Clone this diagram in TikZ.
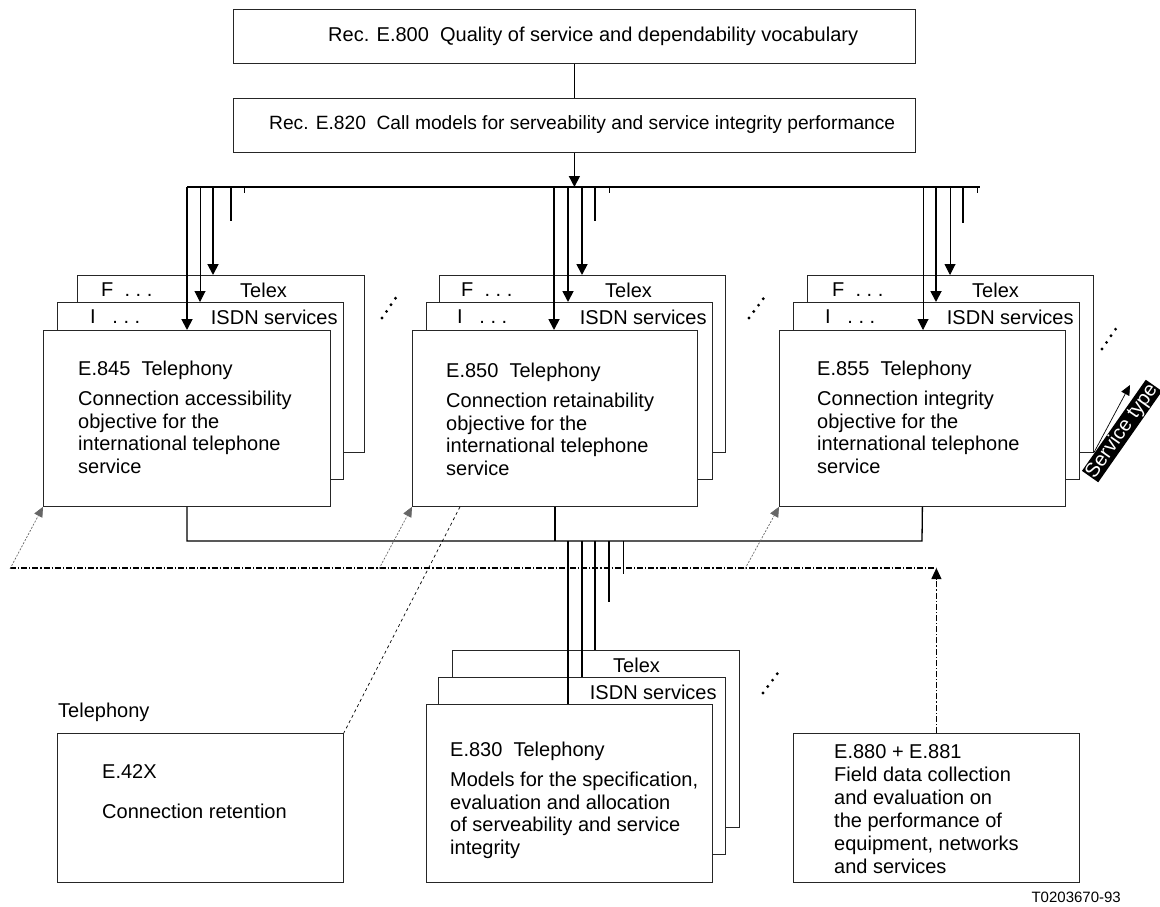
\documentclass[tikz,border=0pt]{standalone}
\usepackage{fontspec}
\setmainfont{Liberation Sans}
\usetikzlibrary{arrows.meta,calc}

\tikzset{
  box/.style={draw=black!85, line width=0.8pt, fill=white, anchor=north west, inner sep=0pt},
  txt/.style={inner sep=0pt, font=\fontsize{20}{22.5}\selectfont, align=left},
  busline/.style={line width=2pt},
  feed/.style={line width=1.8pt},
  thinfeed/.style={line width=1pt},
  headarrow/.style={-{Triangle[length=11pt,width=11pt]}},
  dashdot/.style={line width=1.1pt, dash pattern=on 6pt off 2pt on 1.2pt off 2pt},
  ptr/.style={draw=black!60, line width=0.7pt, dash pattern=on 2pt off 1.5pt, -{Triangle[length=10pt,width=9pt]}},
  etcdots/.style={line width=3.2pt, line cap=round, dash pattern=on 0pt off 8pt}
}

\begin{document}
\begin{tikzpicture}[x=1pt, y=-1pt]
  \useasboundingbox (0,0) rectangle (1160,906);

  % top of the tree
  \node[box, minimum width=682, minimum height=54] (e800) at (233,9) {};
  \node[txt, anchor=west] (t800) at (328,36) {Rec. E.800\ \ Quality of service and dependability vocabulary};
  \node[box, minimum width=682, minimum height=54] (e820) at (233,98) {};
  \node[txt, anchor=west, font=\fontsize{19.2}{22}\selectfont] (t820) at (269,125) {Rec. E.820\ \ Call models for serveability and service integrity performance};
  \draw[line width=1.5pt] (e800.south) -- (e820.north);

  \coordinate (busL) at (187,187);
  \coordinate (busR) at (980,187);
  \draw[busline] (busL) -- (busR);
  \draw[line width=1.5pt, headarrow] (e820.south) -- (e820.south |- busL);

  % E.845 stack
  \node[box, minimum width=287, minimum height=177] (f845) at (77,275) {};
  \node[box, minimum width=286, minimum height=177] (i845) at (57,302) {};
  \node[box, minimum width=287, minimum height=176] (b845) at (43,330) {};
  \node[txt, anchor=west] (lf845) at ($(f845.north west)+(24,15)$) {F\ \ .\ .\ .};
  \node[txt, anchor=west] (lt845) at ($(f845.north west)+(163,15)$) {Telex};
  \node[txt, anchor=west] (li845) at ($(i845.north west)+(33,15)$) {I\ \ \ .\ .\ .};
  \node[txt, anchor=east] (ls845) at ($(i845.north east)+(-6,15)$) {ISDN services};
  \node[txt, anchor=west] (h845) at ($(b845.north west)+(35,40)$) {E.845\ \ Telephony};
  \node[txt, anchor=north west] (d845) at ($(b845.north west)+(35,61)$) {Connection accessibility\\objective for the\\international telephone\\service};

  % E.850 stack
  \node[box, minimum width=286, minimum height=177] (f850) at (439,275) {};
  \node[box, minimum width=286, minimum height=177] (i850) at (426,302) {};
  \node[box, minimum width=285, minimum height=176] (b850) at (412,330) {};
  \node[txt, anchor=west] (lf850) at ($(f850.north west)+(22,15)$) {F\ \ .\ .\ .};
  \node[txt, anchor=west] (lt850) at ($(f850.north west)+(166,15)$) {Telex};
  \node[txt, anchor=west] (li850) at ($(i850.north west)+(31,15)$) {I\ \ \ .\ .\ .};
  \node[txt, anchor=east] (ls850) at ($(i850.north east)+(-6,15)$) {ISDN services};
  \node[txt, anchor=west] (h850) at ($(b850.north west)+(34,42)$) {E.850\ \ Telephony};
  \node[txt, anchor=north west] (d850) at ($(b850.north west)+(34,63)$) {Connection retainability\\objective for the\\international telephone\\service};

  % E.855 stack
  \node[box, minimum width=286, minimum height=177] (f855) at (807,275) {};
  \node[box, minimum width=286, minimum height=177] (i855) at (793,302) {};
  \node[box, minimum width=286, minimum height=176] (b855) at (779,330) {};
  \node[txt, anchor=west] (lf855) at ($(f855.north west)+(25,15)$) {F\ \ .\ .\ .};
  \node[txt, anchor=west] (lt855) at ($(f855.north west)+(165,15)$) {Telex};
  \node[txt, anchor=west] (li855) at ($(i855.north west)+(32,15)$) {I\ \ \ .\ .\ .};
  \node[txt, anchor=east] (ls855) at ($(i855.north east)+(-6,15)$) {ISDN services};
  \node[txt, anchor=west] (h855) at ($(b855.north west)+(38,40)$) {E.855\ \ Telephony};
  \node[txt, anchor=north west] (d855) at ($(b855.north west)+(38,61)$) {Connection integrity\\objective for the\\international telephone\\service};

  % taps on the bus
  \coordinate (a1) at (187,187); \coordinate (a2) at (200,187); \coordinate (a3) at (213,187);
  \coordinate (a4) at (231,187); \coordinate (a5) at (244,187);
  \coordinate (m1) at (554,187); \coordinate (m2) at (568,187); \coordinate (m3) at (582,187);
  \coordinate (m4) at (595,187); \coordinate (m5) at (609,187);
  \coordinate (r1) at (923,187); \coordinate (r2) at (936,187); \coordinate (r3) at (950,187);
  \coordinate (r4) at (963,187); \coordinate (r5) at (977,187);

  \draw[feed, headarrow] (a1) -- (a1 |- b845.north);
  \draw[thinfeed, headarrow] (a2) -- (a2 |- i845.north);
  \draw[feed, headarrow] (a3) -- (a3 |- f845.north);
  \draw[feed] (a4) -- ++(0,34);
  \draw[thinfeed] (a5) -- ++(0,6);

  \draw[feed, headarrow] (m1) -- (m1 |- b850.north);
  \draw[feed, headarrow] (m2) -- (m2 |- i850.north);
  \draw[feed, headarrow] (m3) -- (m3 |- f850.north);
  \draw[feed] (m4) -- ++(0,34);
  \draw[thinfeed] (m5) -- ++(0,6);

  \draw[thinfeed, headarrow] (r1) -- (r1 |- b855.north);
  \draw[feed, headarrow] (r2) -- (r2 |- i855.north);
  \draw[thinfeed, headarrow] (r3) -- (r3 |- f855.north);
  \draw[feed] (r4) -- ++(0,36);
  \draw[thinfeed] (r5) -- ++(0,6);

  % more services
  \coordinate (g1a) at (382,318); \coordinate (g1b) at (397,296);
  \coordinate (g2a) at (749,318); \coordinate (g2b) at (766,295);
  \coordinate (g3a) at (1102,349); \coordinate (g3b) at (1117,327);
  \coordinate (g4a) at (763,693); \coordinate (g4b) at (780,670);
  \draw[etcdots] (g1a) -- (g1b);
  \draw[etcdots] (g2a) -- (g2b);
  \draw[etcdots] (g3a) -- (g3b);
  \draw[etcdots] (g4a) -- (g4b);

  % service type axis
  \coordinate (st) at (1130,385);
  \draw[line width=0.7pt, -{Triangle[length=10pt,width=9pt]}] (f855.south east) -- (st);
  \node[txt, fill=black, text=white, inner sep=0.6pt, rotate=55] (stype) at (1122,431) {Service type};

  % joining the objectives
  \coordinate (jl) at (187,541);
  \coordinate (jr) at (922,541);
  \draw[line width=1.3pt] (b845.south) -- (b845.south |- jl) -- (jr) -- (b855.south);
  \draw[line width=1.3pt] (b850.south) -- (b850.south |- jl);

  % E.830 stack
  \node[box, minimum width=287, minimum height=177] (f830) at (452,650) {};
  \node[box, minimum width=287, minimum height=177] (i830) at (438,677) {};
  \node[box, minimum width=286, minimum height=178] (b830) at (426,704) {};
  \node[txt, anchor=west] (lt830) at ($(f830.north west)+(161,15)$) {Telex};
  \node[txt, anchor=east] (ls830) at ($(i830.north east)+(-9,15)$) {ISDN services};
  \node[txt, anchor=west] (h830) at ($(b830.north west)+(24,47)$) {E.830\ \ Telephony};
  \node[txt, anchor=north west] (d830) at ($(b830.north west)+(24,68)$) {Models for the specification,\\evaluation and allocation\\of serveability and service\\integrity};

  \coordinate (n1) at (568,541); \coordinate (n2) at (582,541); \coordinate (n3) at (595,541);
  \coordinate (n4) at (609,541); \coordinate (n5) at (623,541);
  \draw[feed] (n1) -- (n1 |- b830.north);
  \draw[feed] (n2) -- (n2 |- i830.north);
  \draw[feed] (n3) -- (n3 |- f830.north);
  \draw[feed] (n4) -- ++(0,61);
  \draw[thinfeed] (n5) -- ++(0,33);

  % E.42X
  \node[box, minimum width=286, minimum height=149] (e42x) at (57,733) {};
  \node[txt, anchor=west] (l42x) at ($(e42x.north west)+(1,-21)$) {Telephony};
  \node[txt, anchor=west] (h42x) at ($(e42x.north west)+(45,39)$) {E.42X};
  \node[txt, anchor=west] (d42x) at ($(e42x.north west)+(45,78)$) {Connection retention};
  \draw[line width=0.7pt, dashed] ($(b850.south west)+(48,0)$) -- (e42x.north east);

  % E.880 + E.881
  \node[box, minimum width=286, minimum height=149] (e880) at (793,733) {};
  \node[txt, anchor=north west, font=\fontsize{20}{23}\selectfont] (d880) at ($(e880.north west)+(41,11)$) {E.880 + E.881\\Field data collection\\and evaluation on\\the performance of\\equipment, networks\\and services};

  % field data feedback
  \coordinate (dd) at (10,568);
  \draw[dashdot] (dd) -- (e880.north |- dd);
  \draw[dashdot, -{Triangle[length=11pt,width=10pt]}] (e880.north) -- (e880.north |- dd);
  \draw[ptr] ($(b845.south west)+(-33,62)$) -- (b845.south west);
  \draw[ptr] ($(b850.south west)+(-33,62)$) -- (b850.south west);
  \draw[ptr] ($(b855.south west)+(-34,62)$) -- (b855.south west);

  \node[inner sep=0pt, font=\fontsize{15}{17}\selectfont, anchor=east] (fig) at (1121,897) {T0203670-93};
\end{tikzpicture}
\end{document}
